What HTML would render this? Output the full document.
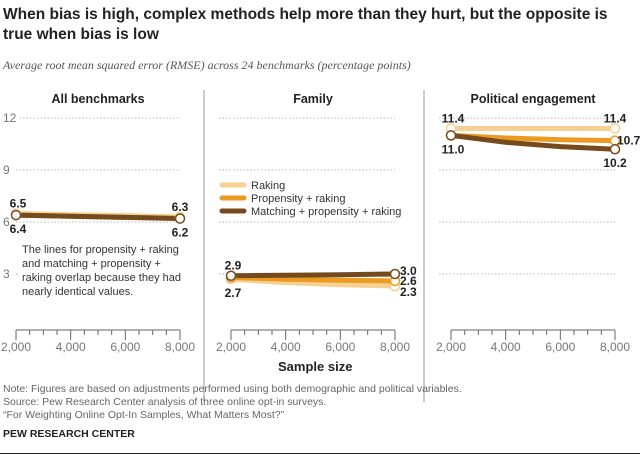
<!DOCTYPE html>
<html><head><meta charset="utf-8"><style>
body{margin:0;background:#fff;font-family:"Liberation Sans",sans-serif;}
#wrap{position:relative;width:640px;height:457px;overflow:hidden;}
.t{position:absolute;white-space:nowrap;}
</style></head><body>
<div id="wrap">
<div class="t" style="left:3px;top:5px;font-size:15.5px;font-weight:bold;color:#222;line-height:20px;white-space:normal;width:635px;">When bias is high, complex methods help more than they hurt, but the opposite is true when bias is low</div>
<div class="t" style="left:3px;top:58px;font-size:12px;font-style:italic;color:#555;font-family:'Liberation Serif',serif;">Average root mean squared error (RMSE) across 24 benchmarks (percentage points)</div>
<svg id="svg" width="640" height="457" style="position:absolute;left:0;top:0"></svg>
<div class="t" style="left:278px;top:359px;font-size:13px;font-weight:bold;color:#222;">Sample size</div>
<div class="t" style="left:3px;top:383px;font-size:10.5px;color:#666;line-height:13px;">Note: Figures are based on adjustments performed using both demographic and political variables.<br>Source: Pew Research Center analysis of three online opt-in surveys.<br>“For Weighting Online Opt-In Samples, What Matters Most?”</div>
<div class="t" style="left:3px;top:428px;font-size:10.5px;font-weight:bold;color:#222;">PEW RESEARCH CENTER</div>
<div style="position:absolute;left:0;top:453px;width:640px;height:1px;background:#222"></div>
</div>
<script>
const sampleSizes=[2000,4000,6000,8000];
const panelTitles=["All benchmarks","Family","Political engagement"];
const rakingVals=[[6.5,6.43,6.37,6.3],[2.7,2.5,2.38,2.3],[11.4,11.4,11.4,11.4]];
const propensityVals=[[6.4,6.33,6.27,6.2],[2.8,2.7,2.64,2.6],[11.0,10.85,10.75,10.7]];
const matchingVals=[[6.4,6.33,6.27,6.2],[2.9,2.93,2.96,3.0],[11.0,10.6,10.35,10.2]];
const yTicks=[3,6,9,12];
const xTicks=[2000,4000,6000,8000];
const seriesNames=["Raking","Propensity + raking","Matching + propensity + raking"];
const colors=["#f7d193","#eb9b22","#754a1d"];
const svg=document.getElementById('svg');const NS='http://www.w3.org/2000/svg';
function el(tag,a,p){const e=document.createElementNS(NS,tag);for(const k in a)e.setAttribute(k,a[k]);(p||svg).appendChild(e);return e;}
const panelX=[16,231,451];const pw=164;
function y(v){return 326-v*17.33;}
const series=[rakingVals,propensityVals,matchingVals];
const labelPos=[
 {l:[[6.5,-10],[6.4,14]],r:[[6.3,-10],[6.2,14]],ra:'middle'},
 {l:[[2.9,-10],[2.7,14]],r:[[3.0,-3],[2.6,0],[2.3,6]],ra:'start'},
 {l:[[11.4,-10],[11.0,14]],r:[[11.4,-10],[10.7,0],[10.2,14]],ra:'mix'}];
for(let p=0;p<3;p++){
 const x0=panelX[p];const x=v=>x0+(v-2000)/6000*pw;
 const g=el('g',{});
 
 
 const t=el('text',{x:x0+pw/2,y:103,'text-anchor':'middle','font-size':12.5,'font-weight':'bold',fill:'#222'},g);t.textContent=panelTitles[p];
 
 
 yTicks.forEach(v=>{const l=el('line',{x1:x0-(p==0?0:12),x2:x0+pw,y1:y(v),y2:y(v),stroke:'#bbb','stroke-dasharray':'1.5,2','stroke-width':1},g);
  
  
  if(p==0){const tt=el('text',{x:3,y:y(v)+4,'font-size':12,fill:'#777'},g);tt.textContent=v;
  
  
  const bg=el('rect',{x:2,y:y(v)-7,width:tt.textContent.length*7+2,height:12,fill:'#fff'},g);g.insertBefore(bg,tt);}});
 el('line',{x1:x0,x2:x0+pw,y1:330,y2:330,stroke:'#666'},g);
 for(let k=0;k<=12;k++){const xx=x0+k*pw/12;el('line',{x1:xx,x2:xx,y1:330,y2:k%4==0?340:335,stroke:'#666'},g);}
 xTicks.forEach(v=>{const tt=el('text',{x:x(v),y:351,'text-anchor':'middle','font-size':12,fill:'#777'},g);tt.textContent=v.toLocaleString('en-US');
  
  });
 if(p>0){const d=el('line',{x1:x0-27,x2:x0-27,y1:90,y2:402,stroke:'#999'},g);
  
  }
 if(p==0){const r=el('rect',{x:18,y:240,width:170,height:70,fill:'#fff','fill-opacity':0.9},g);
  ["The lines for propensity + raking","and matching + propensity +","raking overlap because they had","nearly identical values."].forEach((s,i)=>{const tt=el('text',{x:22,y:253+i*14,'font-size':11,fill:'#333'},g);tt.textContent=s;
  
  });}
 for(let s=0;s<3;s++){const vals=series[s][p];
  const pts=vals.map((v,i)=>x(sampleSizes[i])+','+y(v)).join(' ');
  const pl=el('polyline',{points:pts,fill:'none',stroke:colors[s],'stroke-width':5,'stroke-linejoin':'round'},g);
  
  }
 for(let s=0;s<3;s++){const vals=series[s][p];[0,vals.length-1].forEach(i=>{
  const c=el('circle',{cx:x(sampleSizes[i]),cy:y(vals[i]),r:4.5,fill:'#fff',stroke:colors[s],'stroke-width':1.5},g);
  
  });}
 const lp=labelPos[p];
 lp.l.forEach(([v,dy])=>{const tt=el('text',{x:x0+2,y:y(v)+dy+4,'text-anchor':'middle','font-size':12,'font-weight':'bold',fill:'#222'},g);tt.textContent=v.toFixed(1);
  
  });
 lp.r.forEach(([v,dy])=>{let anchor='middle',xx=x0+pw;
  if(lp.ra=='start'){anchor='start';xx=x0+pw+5;}
  if(lp.ra=='mix'&&dy==0){anchor='start';xx=x0+pw+2;}
  const tt=el('text',{x:xx,y:y(v)+dy+4,'text-anchor':anchor,'font-size':12,'font-weight':'bold',fill:'#222'},g);tt.textContent=v.toFixed(1);
  
  });
}
seriesNames.forEach((n,i)=>{const yy=185+i*13;
 const l=el('line',{x1:222,x2:244,y1:yy,y2:yy,stroke:colors[i],'stroke-width':5,'stroke-linecap':'round'});
 
 
 const t=el('text',{x:251,y:yy+4,'font-size':11,fill:'#333'});t.textContent=n;
 
 });
</script>
</body></html>
